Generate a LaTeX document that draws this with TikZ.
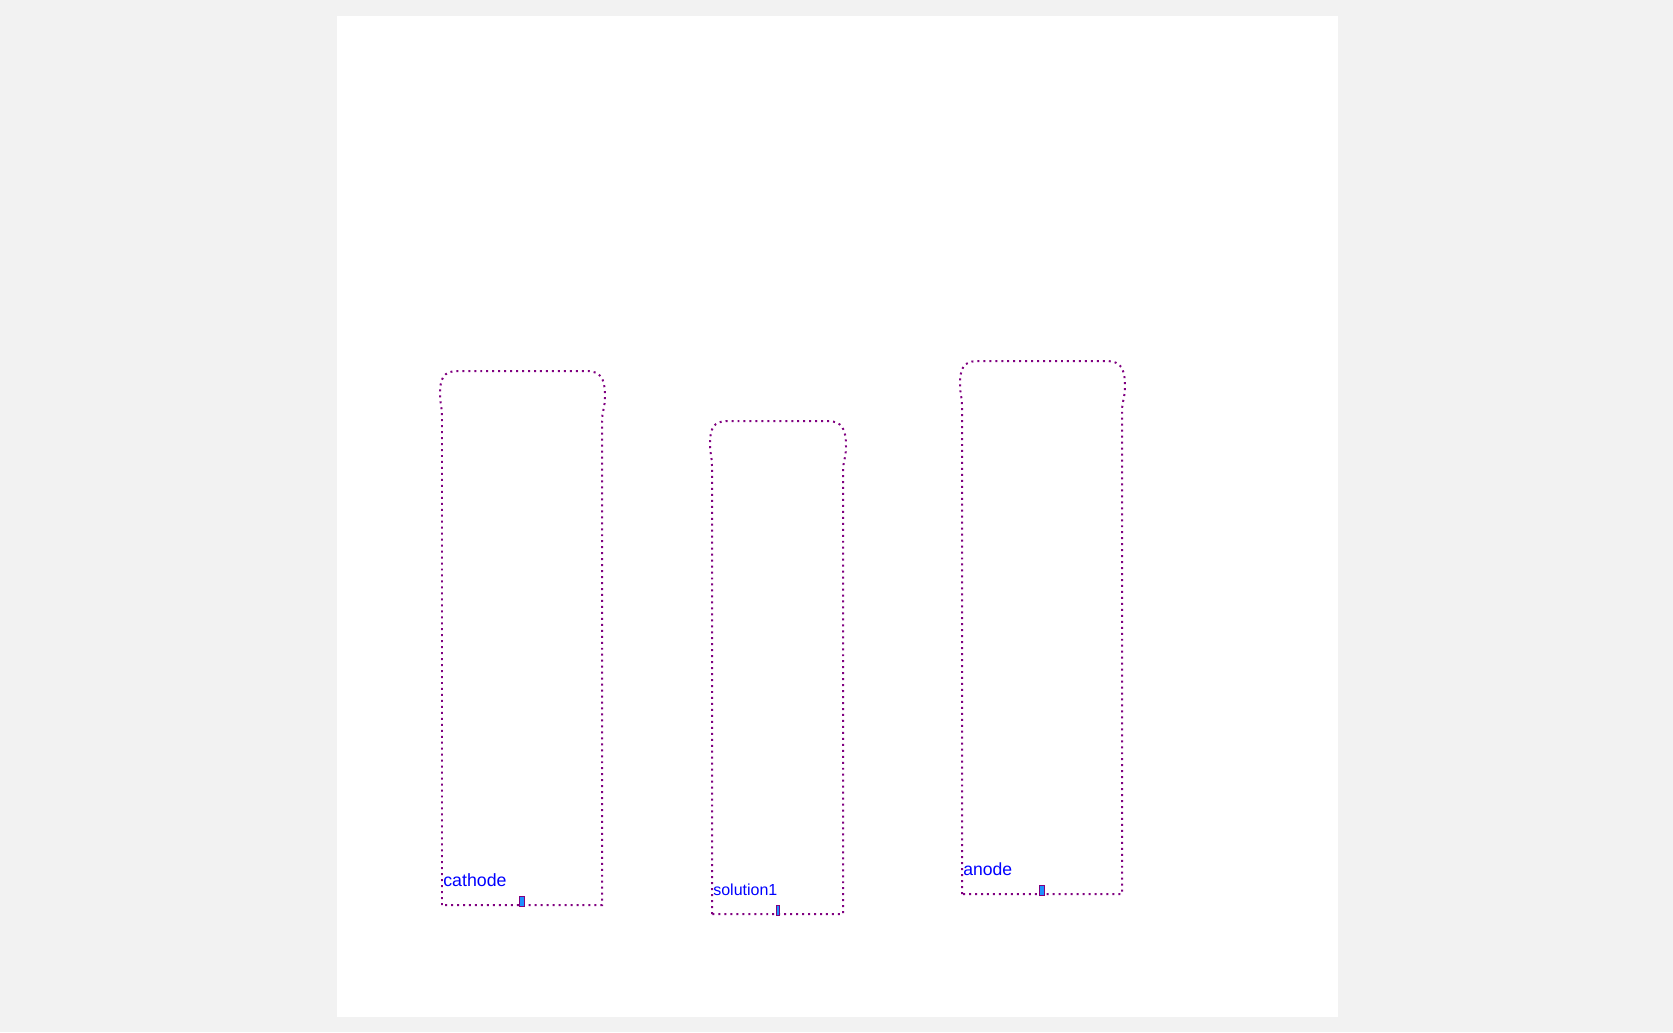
\documentclass[tikz,border=0pt]{standalone}
\usepackage{fontspec}
\setmainfont{Liberation Sans}
\usetikzlibrary{positioning}
\definecolor{cpurple}{HTML}{800080}
\definecolor{cblue}{HTML}{0000FF}
\definecolor{cport}{HTML}{1E90FF}
\definecolor{cbg}{HTML}{F2F2F2}
\tikzset{
  every picture/.style={x=0.02cm, y=-0.02cm},
  vessel/.style={draw=cpurple, line width=1.13pt, dash pattern=on 1.13pt off 2.27pt},
  tag/.style={text=cblue, anchor=base west, inner sep=0pt, font=\fontsize{#1}{#1}\selectfont},
  port/.style={draw=cpurple, fill=cport, line width=0.3pt, inner sep=0pt},
}

\begin{document}
\begin{tikzpicture}
  \useasboundingbox (0,0) rectangle (1673,1032);
  \fill[cbg] (0,0) rectangle (1673,1032);
  \fill[white] (337,16) rectangle (1338,1017);
  % the three vessels: name / left / top / right / bottom / font size / port width
  \foreach \name/\xl/\yt/\xr/\yb/\fs/\pw in {cathode/442/371/602/905/10.1/5,
      solution1/712/421/843/914/9.1/3, anode/962/361/1122/894/10.0/5} {
    \draw[vessel] (\xl,\yb) -- (\xl,\yt+45)
      .. controls (\xl,\yt+36) and (\xl-2,\yt+32) .. (\xl-2,\yt+24)
      .. controls (\xl-2,\yt+6) and (\xl+2,\yt+1) .. (\xl+14,\yt)
      -- (\xr-14,\yt)
      .. controls (\xr-2,\yt+1) and (\xr+3,\yt+6) .. (\xr+3,\yt+26)
      .. controls (\xr+3,\yt+36) and (\xr,\yt+41) .. (\xr,\yt+50)
      -- (\xr,\yb) -- cycle;
    \node[tag=\fs] (\name) at (\xl+1,\yb-19) {\name};
    \node[port, minimum width=\pw*0.02cm, minimum height=0.2cm]
      (\name-port) at ({(\xl+\xr)/2},\yb-4) {};
  }
\end{tikzpicture}
\end{document}
